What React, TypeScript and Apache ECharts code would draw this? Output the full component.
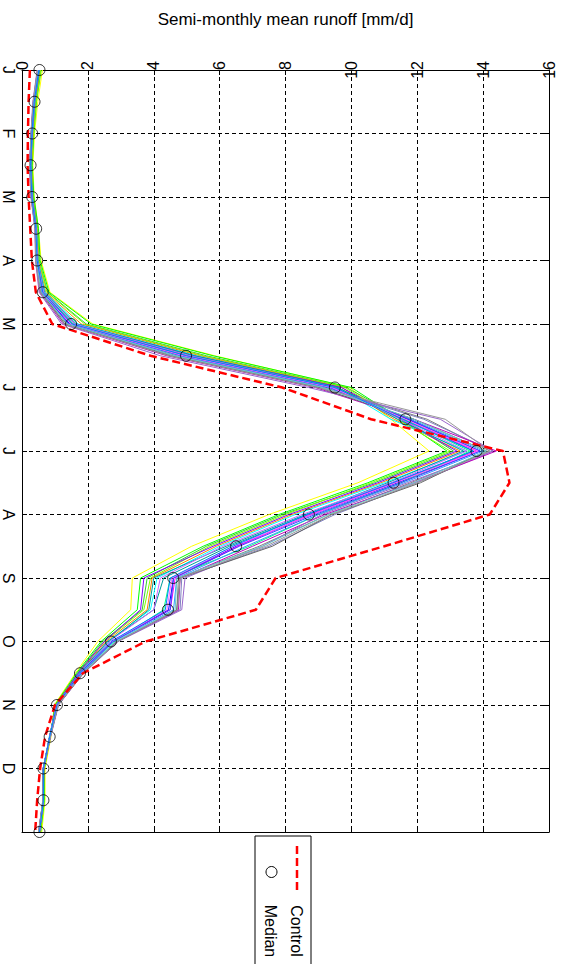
import { useEffect, useRef } from "react";
import * as echarts from "echarts";

// Half-month steps from 1 Jan (index 0) to 31 Dec (index 24)
const MONTHS = ["J", "F", "M", "A", "M", "J", "J", "A", "S", "O", "N", "D"];

const median = [0.53, 0.38, 0.31, 0.26, 0.31, 0.43, 0.46, 0.63, 1.49, 4.98, 9.5, 11.64, 13.8, 11.28, 8.71, 6.5, 4.59, 4.43, 2.7, 1.76, 1.06, 0.84, 0.65, 0.65, 0.53];
const control = [0.24, 0.2, 0.18, 0.17, 0.2, 0.25, 0.3, 0.42, 0.92, 3.9, 7.9, 10.6, 14.6, 14.8, 14.2, 11.0, 7.7, 7.1, 3.75, 1.85, 1.0, 0.7, 0.55, 0.46, 0.4];

const run01 = [0.62, 0.48, 0.38, 0.33, 0.37, 0.5, 0.58, 0.85, 2.15, 5.85, 9.95, 11.2, 12.36, 10.2, 7.5, 5.15, 3.35, 3.3, 2.3, 1.62, 0.98, 0.88, 0.7, 0.7, 0.6];
const run02 = [0.58, 0.44, 0.36, 0.31, 0.36, 0.5, 0.55, 0.82, 2.1, 5.8, 10.0, 11.5, 12.9, 10.5, 7.8, 5.5, 3.6, 3.5, 2.4, 1.65, 1.0, 0.86, 0.68, 0.68, 0.57];
const run03 = [0.55, 0.42, 0.34, 0.3, 0.34, 0.48, 0.52, 0.78, 1.95, 5.6, 9.85, 11.6, 13.1, 10.7, 7.9, 5.6, 3.8, 3.65, 2.45, 1.68, 1.02, 0.85, 0.67, 0.66, 0.55];
const run04 = [0.57, 0.43, 0.35, 0.29, 0.33, 0.46, 0.52, 0.76, 1.9, 5.5, 9.8, 11.4, 13.0, 10.6, 8.0, 5.7, 3.9, 3.7, 2.5, 1.7, 1.03, 0.84, 0.66, 0.66, 0.55];
const run05 = [0.54, 0.4, 0.33, 0.28, 0.32, 0.45, 0.5, 0.72, 1.8, 5.4, 9.7, 11.3, 13.3, 10.9, 8.2, 5.9, 3.95, 3.8, 2.55, 1.72, 1.04, 0.85, 0.66, 0.65, 0.54];
const run06 = [0.52, 0.39, 0.32, 0.27, 0.31, 0.44, 0.49, 0.7, 1.7, 5.3, 9.6, 11.2, 13.5, 11.0, 8.3, 6.0, 4.1, 3.9, 2.6, 1.73, 1.05, 0.84, 0.65, 0.65, 0.53];
const run07 = [0.5, 0.38, 0.31, 0.26, 0.3, 0.42, 0.47, 0.66, 1.6, 5.2, 9.7, 11.5, 13.2, 10.8, 8.1, 5.8, 3.7, 3.6, 2.5, 1.7, 1.04, 0.84, 0.66, 0.65, 0.53];
const run08 = [0.53, 0.38, 0.3, 0.26, 0.31, 0.43, 0.47, 0.65, 1.55, 5.1, 9.55, 11.7, 13.7, 11.3, 8.7, 6.3, 4.3, 4.0, 2.6, 1.74, 1.05, 0.83, 0.65, 0.64, 0.52];
const run09 = [0.5, 0.36, 0.29, 0.25, 0.3, 0.42, 0.45, 0.6, 1.45, 4.9, 9.4, 11.7, 13.9, 11.4, 8.8, 6.5, 4.6, 4.45, 2.72, 1.78, 1.07, 0.84, 0.65, 0.65, 0.53];
const run10 = [0.51, 0.37, 0.3, 0.25, 0.3, 0.43, 0.46, 0.62, 1.5, 4.95, 9.45, 11.6, 13.8, 11.3, 8.75, 6.55, 4.65, 4.5, 2.75, 1.78, 1.07, 0.85, 0.65, 0.65, 0.53];
const run11 = [0.49, 0.36, 0.29, 0.24, 0.29, 0.41, 0.44, 0.58, 1.35, 4.7, 9.2, 12.3, 14.2, 11.8, 9.3, 7.2, 4.75, 4.7, 2.85, 1.83, 1.09, 0.85, 0.64, 0.64, 0.52];
const run12 = [0.48, 0.35, 0.28, 0.24, 0.28, 0.4, 0.43, 0.56, 1.3, 4.6, 9.1, 12.2, 14.3, 12.0, 9.5, 7.5, 4.85, 4.8, 2.9, 1.85, 1.1, 0.86, 0.65, 0.64, 0.52];
const run13 = [0.5, 0.37, 0.3, 0.25, 0.3, 0.42, 0.46, 0.64, 1.55, 5.0, 9.5, 11.6, 13.6, 11.5, 9.0, 6.9, 4.5, 4.3, 2.8, 1.8, 1.06, 0.84, 0.65, 0.64, 0.52];
const run14 = [0.49, 0.36, 0.29, 0.25, 0.29, 0.42, 0.45, 0.6, 1.4, 4.8, 9.3, 11.8, 14.0, 11.6, 9.0, 6.8, 4.7, 4.6, 2.78, 1.8, 1.08, 0.84, 0.64, 0.64, 0.52];
const run15 = [0.47, 0.34, 0.28, 0.23, 0.28, 0.4, 0.42, 0.54, 1.25, 4.4, 8.9, 11.9, 14.4, 11.9, 9.2, 7.0, 4.8, 4.75, 2.88, 1.85, 1.1, 0.86, 0.65, 0.64, 0.5];
const run16 = [0.46, 0.33, 0.27, 0.23, 0.27, 0.39, 0.41, 0.52, 1.2, 4.2, 8.7, 12.7, 14.3, 11.7, 9.1, 7.3, 4.95, 4.85, 2.92, 1.87, 1.11, 0.87, 0.66, 0.64, 0.5];
const run17 = [0.48, 0.35, 0.28, 0.24, 0.29, 0.41, 0.44, 0.57, 1.3, 4.5, 9.0, 11.9, 14.1, 12.1, 9.4, 7.6, 4.8, 4.7, 2.9, 1.86, 1.1, 0.85, 0.64, 0.63, 0.51];
const run18 = [0.52, 0.39, 0.31, 0.27, 0.32, 0.44, 0.48, 0.68, 1.65, 5.25, 9.6, 11.4, 13.4, 11.1, 8.6, 6.2, 4.0, 3.85, 2.65, 1.75, 1.05, 0.84, 0.65, 0.65, 0.53];
const run19 = [0.51, 0.38, 0.31, 0.26, 0.31, 0.43, 0.47, 0.66, 1.6, 5.1, 9.5, 11.5, 13.5, 11.2, 8.5, 6.1, 4.2, 4.0, 2.65, 1.75, 1.05, 0.84, 0.65, 0.64, 0.53];
const run20 = [0.5, 0.37, 0.3, 0.25, 0.3, 0.42, 0.45, 0.61, 1.42, 4.85, 9.35, 11.75, 13.9, 11.5, 8.9, 6.6, 4.6, 4.5, 2.75, 1.79, 1.07, 0.85, 0.65, 0.65, 0.52];
const run21 = [0.5, 0.36, 0.29, 0.25, 0.3, 0.42, 0.46, 0.62, 1.48, 4.9, 9.4, 11.65, 13.85, 11.35, 8.8, 6.45, 4.55, 4.4, 2.72, 1.77, 1.06, 0.84, 0.65, 0.65, 0.53];
const run22 = [0.49, 0.36, 0.29, 0.24, 0.29, 0.41, 0.44, 0.58, 1.38, 4.65, 9.15, 11.9, 14.1, 11.9, 9.3, 7.3, 4.7, 4.65, 2.85, 1.83, 1.09, 0.85, 0.65, 0.64, 0.51];
const run23 = [0.47, 0.34, 0.28, 0.23, 0.28, 0.4, 0.42, 0.55, 1.28, 4.45, 8.95, 12.85, 14.2, 12.0, 9.4, 7.4, 4.8, 4.72, 2.9, 1.85, 1.1, 0.86, 0.65, 0.64, 0.5];
const run24 = [0.51, 0.37, 0.3, 0.26, 0.3, 0.42, 0.46, 0.63, 1.52, 5.0, 9.5, 11.55, 13.7, 11.25, 8.65, 6.4, 4.5, 4.35, 2.7, 1.76, 1.06, 0.84, 0.65, 0.65, 0.53];

const ensemble = [run01, run02, run03, run04, run05, run06, run07, run08, run09, run10, run11, run12, run13, run14, run15, run16, run17, run18, run19, run20, run21, run22, run23, run24];

const runColors = [
  "#ffff00", "#00ff00", "#33cc33", "#80ff00", "#ff8000", "#00ffff",
  "#7f00ff", "#009999", "#0000ff", "#ff00ff", "#808080", "#8080c0",
  "#00ff80", "#3399ff", "#bf00bf", "#9966cc", "#666666", "#00a0a0",
  "#cc66ff", "#4040ff", "#ff66ff", "#66cccc", "#999999", "#0080ff",
];

const FONT = 'Arial, "Liberation Sans", Helvetica, sans-serif';

const toPoints = (vals: number[]) => vals.map((v, k) => [v, k]);

export default function App() {
  const ref = useRef<HTMLDivElement>(null);

  useEffect(() => {
    if (!ref.current) return;
    const chart = echarts.init(ref.current, null, { renderer: "svg" });

    const gridLine = { show: true, lineStyle: { color: "#000", width: 1, type: [4, 3] as any } };
    const axisLine = { show: true, onZero: false, lineStyle: { color: "#000", width: 1 } };
    const tick = { show: true, inside: true, length: 5, lineStyle: { color: "#000" } };
    const tickFont = { color: "#000", fontSize: 16, fontFamily: FONT, rotate: -90 };

    const runSeries = ensemble.map((vals, i) => ({
      type: "line",
      data: toPoints(vals),
      symbol: "none",
      silent: true,
      z: 2,
      lineStyle: { color: runColors[i], width: 1 },
    }));

    chart.setOption({
      animation: false,
      backgroundColor: "#fff",
      grid: { left: 19, top: 70, right: 18, bottom: 132, show: false },
      xAxis: [
        {
          type: "value",
          position: "top",
          min: 0,
          max: 16,
          interval: 2,
          axisLine,
          axisTick: tick,
          splitLine: gridLine,
          axisLabel: {
            ...tickFont,
            margin: 9,
            align: "right",
            verticalAlign: "middle",
            showMinLabel: true,
            showMaxLabel: true,
          },
          name: "Semi-monthly mean runoff [mm/d]",
          nameLocation: "middle",
          nameGap: 42,
          nameTextStyle: { color: "#000", fontSize: 17, fontFamily: FONT },
        },
        {
          type: "value",
          position: "bottom",
          min: 0,
          max: 16,
          interval: 2,
          axisLine,
          axisTick: tick,
          splitLine: { show: false },
          axisLabel: { show: false },
        },
      ],
      yAxis: [
        {
          type: "value",
          position: "left",
          inverse: true,
          min: 0,
          max: 24,
          interval: 2,
          axisLine,
          axisTick: tick,
          splitLine: gridLine,
          axisLabel: {
            ...tickFont,
            margin: 6,
            align: "center",
            verticalAlign: "top",
            showMinLabel: true,
            showMaxLabel: true,
            formatter: (v: number) => MONTHS[Math.round(v / 2)] ?? "",
          },
        },
        {
          type: "value",
          position: "right",
          inverse: true,
          min: 0,
          max: 24,
          interval: 2,
          axisLine,
          axisTick: tick,
          splitLine: { show: false },
          axisLabel: { show: false },
        },
      ],
      series: [
        ...runSeries,
        {
          type: "line",
          name: "Control",
          data: toPoints(control),
          symbol: "none",
          silent: true,
          z: 3,
          lineStyle: { color: "#ff0000", width: 2.5, type: [8, 4] },
        },
        {
          type: "scatter",
          name: "Median",
          data: toPoints(median),
          symbol: "circle",
          symbolSize: 11,
          silent: true,
          z: 4,
          itemStyle: { color: "rgba(0,0,0,0)", borderColor: "#000", borderWidth: 1 },
        },
      ],
      graphic: [
        {
          type: "group",
          silent: true,
          children: [
            {
              type: "rect",
              shape: { x: 255, y: 836, width: 56, height: 140 },
              style: { fill: "#fff", stroke: "#000", lineWidth: 1 },
            },
            {
              type: "line",
              shape: { x1: 297, y1: 846, x2: 297, y2: 894 },
              style: { stroke: "#ff0000", lineWidth: 2.5, lineDash: [8, 4] },
            },
            {
              type: "circle",
              shape: { cx: 271.5, cy: 872, r: 5.5 },
              style: { fill: "none", stroke: "#000", lineWidth: 1 },
            },
            {
              type: "text",
              x: 296,
              y: 931,
              rotation: -Math.PI / 2,
              style: { text: "Control", fill: "#000", fontSize: 16, fontFamily: FONT, align: "center", verticalAlign: "middle" },
            },
            {
              type: "text",
              x: 270,
              y: 931,
              rotation: -Math.PI / 2,
              style: { text: "Median", fill: "#000", fontSize: 16, fontFamily: FONT, align: "center", verticalAlign: "middle" },
            },
          ],
        },
      ],
    });

    return () => chart.dispose();
  }, []);

  return (
    <div
      ref={ref}
      style={{ position: "absolute", left: 0, top: 0, width: 567, height: 964, background: "#fff" }}
    />
  );
}
